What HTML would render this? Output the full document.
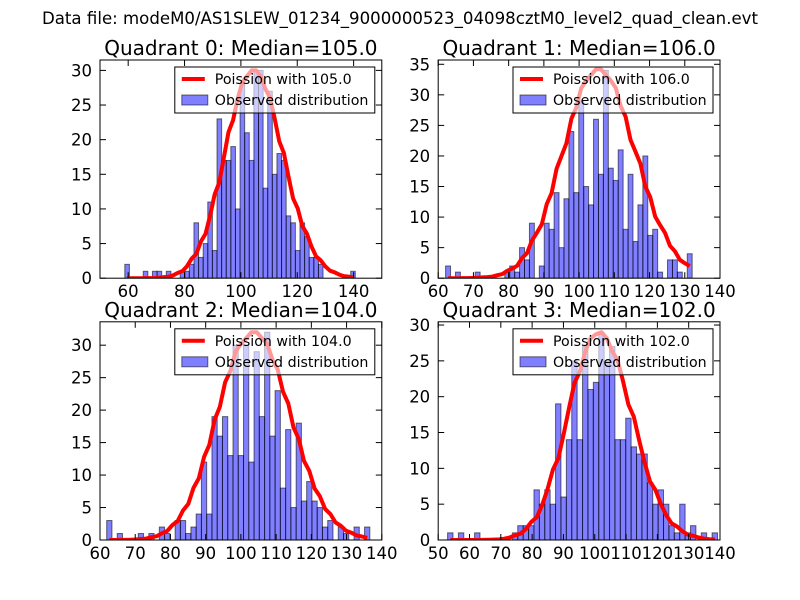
<!DOCTYPE html>
<html><head><meta charset="utf-8">
<style>
body{margin:0;background:#fff;}
svg{display:block;font-family:"DejaVu Sans","Liberation Sans",sans-serif;}
</style></head>
<body>
<svg id="fig" width="800" height="600" viewBox="0 0 800 600">
<rect width="800" height="600" fill="#fff"/>
<text x="400" y="24" text-anchor="middle" font-size="16.6">Data file: modeM0/AS1SLEW_01234_9000000523_04098cztM0_level2_quad_clean.evt</text>
</svg>
<script>
// ---- data ----
const quadrantNames = ["Quadrant 0: Median=105.0","Quadrant 1: Median=106.0","Quadrant 2: Median=104.0","Quadrant 3: Median=102.0"];
const poissonMeans = [105.0, 106.0, 104.0, 102.0];
const poissonPeaks = [30.0, 34.2, 32.0, 29.0];
const binStarts = [58.8, 62.1, 61.9, 53.0];
const binEnds = [140.6, 132.1, 136.6, 139.2];
const counts0 = [2,0,0,0,1,0,1,1,0,1,0,0,1,1,2,8,3,5,11,4,23,17,17,19,10,28,21,17,30,30,13,27,15,18,17,9,8,4,8,6,3,3,2,0,0,0,0,0,0,1];
const counts1 = [2,0,1,0,0,0,1,0,0,0,0,0,1,2,1,5,3,9,0,2,9,8,14,5,13,24,14,29,15,12,26,17,34,18,16,21,8,17,6,12,20,7,8,1,0,3,3,1,0,4];
const counts2 = [3,0,1,0,0,0,1,0,1,0,2,1,0,3,3,1,2,4,12,4,19,16,19,13,30,13,30,12,29,19,32,16,23,8,17,5,18,6,9,6,5,2,3,0,2,1,0,2,0,2];
const counts3 = [1,0,1,0,0,1,0,0,0,0,0,0,1,2,2,2,7,5,7,5,19,6,14,25,14,27,21,22,29,25,27,14,14,17,13,12,12,8,5,7,5,2,1,5,1,2,0,1,0,1];
const allCounts = [counts0, counts1, counts2, counts3];
const xTicks = [[60,80,100,120,140],[60,70,80,90,100,110,120,130,140],[60,70,80,90,100,110,120,130,140],[50,60,70,80,90,100,110,120,130,140]];
const xRanges = [[50,150],[60,140],[60,140],[50,140]];
const yTickStep = [5,5,5,5];

const NS="http://www.w3.org/2000/svg";
const svg=document.getElementById('fig');
function mk(tag,attrs,parent){const e=document.createElementNS(NS,tag);for(const k in attrs)e.setAttribute(k,attrs[k]);(parent||svg).appendChild(e);return e;}
function lgamma(z){
  if(z<7){let p=1;while(z<7){p*=z;z++;}return lgamma(z)-Math.log(p);}
  return (z-0.5)*Math.log(z)-z+0.5*Math.log(2*Math.PI)+1/(12*z)-1/(360*z*z*z);
}
function logPois(k,mu){return k*Math.log(mu)-mu-lgamma(k+1);}

const W=281.8,H=218.2;
const lefts=[100,438.2,100,438.2], tops=[60,60,321.8,321.8];

for(let q=0;q<4;q++){
  const L=lefts[q],T=tops[q],B=T+H,R=L+W;
  const counts=allCounts[q];
  const maxC=Math.max(...counts);
  const ymax=maxC*1.05;
  const [x0,x1]=xRanges[q];
  const sx=v=>L+(v-x0)/(x1-x0)*W;
  const sy=v=>B-v/ymax*H;
  const g=mk('g',{});
  
  
  const clipId='clip'+q;
  const cp=mk('clipPath',{id:clipId},g);mk('rect',{x:L,y:T,width:W,height:H},cp);
  const plot=mk('g',{'clip-path':'url(#'+clipId+')'},g);
  const bw=(binEnds[q]-binStarts[q])/counts.length;
  counts.forEach((c,i)=>{
    if(c<=0)return;
    const a=binStarts[q]+i*bw;
    const r=mk('rect',{x:sx(a),y:sy(c),width:sx(a+bw)-sx(a),height:B-sy(c),fill:'rgba(0,0,255,0.5)',stroke:'rgba(0,0,0,0.55)','stroke-width':1},plot);
    
    
  });
  const mu=poissonMeans[q];
  const peakLog=logPois(Math.round(mu),mu);
  let d='';
  for(let i=0;i<counts.length;i++){
    const cx=binStarts[q]+(i+0.5)*bw;
    const k=Math.round(cx);
    const y=poissonPeaks[q]*Math.exp(logPois(k,mu)-peakLog);
    d+=(i?'L':'M')+sx(cx).toFixed(1)+','+sy(y).toFixed(1);
  }
  const curve=mk('path',{d:d,fill:'none',stroke:'#ff0000','stroke-width':4,'stroke-linejoin':'round'},plot);
  
  
  const fr=mk('rect',{x:L,y:T,width:W,height:H,fill:'none',stroke:'#000','stroke-width':1},g);
  
  
  xTicks[q].forEach(v=>{
    const x=sx(v);
    mk('line',{x1:x,y1:B,x2:x,y2:B-6,stroke:'#000'},g);
    mk('line',{x1:x,y1:T,x2:x,y2:T+6,stroke:'#000'},g);
    const t=mk('text',{x:x,y:B+19,'text-anchor':'middle','font-size':16.5},g);
    t.textContent=v;
    
    
  });
  for(let v=0;v<=ymax;v+=yTickStep[q]){
    const y=sy(v);
    mk('line',{x1:L,y1:y,x2:L+6,y2:y,stroke:'#000'},g);
    mk('line',{x1:R,y1:y,x2:R-6,y2:y,stroke:'#000'},g);
    const t=mk('text',{x:L-8,y:y+6,'text-anchor':'end','font-size':16.5},g);
    t.textContent=v;
    
    
  }
  const tt=mk('text',{x:L+W/2,y:T-5,'text-anchor':'middle','font-size':20},g);
  tt.textContent=quadrantNames[q];
  
  
  const lg=mk('g',{},g);
  
  
  const lx=R-207,ly=T+7;
  mk('rect',{x:lx,y:ly,width:200,height:46,fill:'rgba(255,255,255,0.6)',stroke:'#000','stroke-width':1},lg);
  mk('line',{x1:lx+7,y1:ly+12,x2:lx+30,y2:ly+12,stroke:'#ff0000','stroke-width':4},lg);
  const t1=mk('text',{x:lx+40,y:ly+17,'font-size':14.2},lg);
  t1.textContent='Poission with '+poissonMeans[q].toFixed(1);
  
  
  mk('rect',{x:lx+7,y:ly+28,width:26,height:10,fill:'rgba(0,0,255,0.5)',stroke:'rgba(0,0,0,0.55)'},lg);
  const t2=mk('text',{x:lx+40,y:ly+38,'font-size':14.2},lg);
  t2.textContent='Observed distribution';
  
  
}
</script>
</body></html>
